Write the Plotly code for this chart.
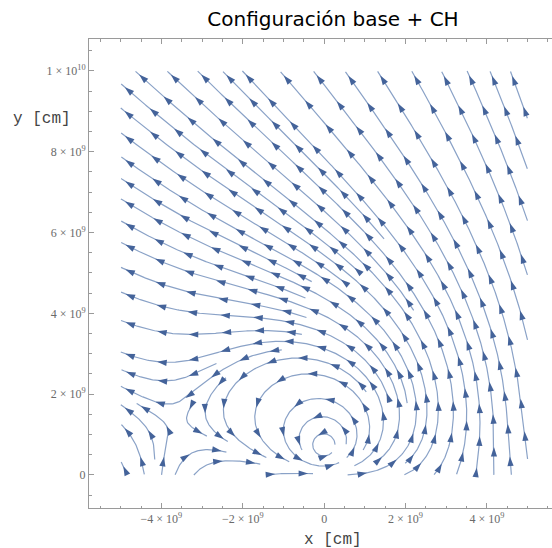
import math
import plotly.graph_objects as go

# ---------------- data (units of 1e9 cm) ----------------
# field sources of the model: flux-rope current, its image and the coronal-hole source
current_x = [0.0, 0.0]
current_y = [0.70, -0.70]
current_I = [1.0, -1.0]
source_x = [10.9]
source_y = [-10.1]
source_Q = [1.74]

x_tick_vals = [-4, -2, 0, 2, 4]
x_tick_text = ["−4 × 10<sup>9</sup>", "−2 × 10<sup>9</sup>", "0", "2 × 10<sup>9</sup>", "4 × 10<sup>9</sup>"]
y_tick_vals = [0, 2, 4, 6, 8, 10]
y_tick_text = ["0", "2 × 10<sup>9</sup>", "4 × 10<sup>9</sup>", "6 × 10<sup>9</sup>",
               "8 × 10<sup>9</sup>", "1 × 10<sup>10</sup>"]

X_MIN, X_MAX, Y_MIN, Y_MAX = -5.0, 5.0, 0.0, 10.0
X_RANGE = [-5.78, 5.60]
Y_RANGE = [-0.817, 10.79]


def field(x, y):
    bx = by = 0.0
    for cx, cy, I in zip(current_x, current_y, current_I):
        dx, dy = x - cx, y - cy
        r2 = dx * dx + dy * dy + 1e-12
        bx -= I * dy / r2
        by += I * dx / r2
    for sx, sy, Q in zip(source_x, source_y, source_Q):
        dx, dy = x - sx, y - sy
        r2 = dx * dx + dy * dy
        bx += Q * dx / r2
        by += Q * dy / r2
    return bx, by


# ---------------- evenly spaced streamlines ----------------
DSEP = 0.43
DTEST = 0.21
DS = 0.03
BMIN = 0.004
CELL = DSEP
grid = {}


def cell_of(x, y):
    return (int(math.floor((x + 6) / CELL)), int(math.floor((y + 1) / CELL)))


def near(x, y, r, g, s=None):
    cx, cy = cell_of(x, y)
    r2 = r * r
    for i in (cx - 1, cx, cx + 1):
        for j in (cy - 1, cy, cy + 1):
            for p in g.get((i, j), ()):
                if (p[0] - x) ** 2 + (p[1] - y) ** 2 < r2:
                    if s is None or abs(p[2] - s) > 3.5 * DSEP:
                        return True
    return False


def add(g, x, y, s=0.0):
    g.setdefault(cell_of(x, y), []).append((x, y, s))


def unit(x, y):
    bx, by = field(x, y)
    m = math.hypot(bx, by)
    if m < 1e-9:
        return None
    return bx / m, by / m, m


def trace(x0, y0, sign, own):
    pts = []
    x, y, s = x0, y0, 0.0
    for _ in range(1500):
        d1 = unit(x, y)
        if d1 is None or d1[2] < BMIN:
            break
        xm, ym = x + 0.5 * DS * sign * d1[0], y + 0.5 * DS * sign * d1[1]
        d2 = unit(xm, ym)
        if d2 is None:
            break
        xn, yn = x + DS * sign * d2[0], y + DS * sign * d2[1]
        if not (X_MIN <= xn <= X_MAX and Y_MIN <= yn <= Y_MAX):
            break
        s += DS * sign
        if near(xn, yn, DTEST, grid):
            break
        if near(xn, yn, DTEST, own, s):
            break
        add(own, xn, yn, s)
        pts.append((xn, yn))
        x, y = xn, yn
    return pts


lines = []


def try_seed(x0, y0):
    if not (X_MIN <= x0 <= X_MAX and Y_MIN <= y0 <= Y_MAX):
        return None
    if near(x0, y0, DSEP * 0.98, grid):
        return None
    d = unit(x0, y0)
    if d is None or d[2] < BMIN:
        return None
    own = {}
    add(own, x0, y0, 0.0)
    fwd = trace(x0, y0, 1, own)
    bwd = trace(x0, y0, -1, own)
    line = bwd[::-1] + [(x0, y0)] + fwd
    if len(line) * DS < 0.3:
        return None
    for (px, py) in line:
        add(grid, px, py)
    lines.append(line)
    return line


def grow(line0):
    queue = [line0]
    while queue:
        ln = queue.pop(0)
        for k in range(0, len(ln), 4):
            px, py = ln[k]
            d = unit(px, py)
            if d is None:
                continue
            nx, ny = -d[1], d[0]
            for sgn in (1, -1):
                nl = try_seed(px + sgn * DSEP * nx, py + sgn * DSEP * ny)
                if nl is not None:
                    queue.append(nl)


first = try_seed(1.0, 6.0)
if first is not None:
    grow(first)
step = DSEP / 2
ny_ = int((Y_MAX - Y_MIN) / step) + 1
nx_ = int((X_MAX - X_MIN) / step) + 1
for j in range(ny_):
    for i in range(nx_):
        nl = try_seed(X_MIN + i * step, Y_MIN + j * step)
        if nl is not None:
            grow(nl)

# ---------------- build traces ----------------
lx, ly = [], []
ax_, ay_, aang = [], [], []
PX = 463 / (X_RANGE[1] - X_RANGE[0])
PY = 469 / (Y_RANGE[1] - Y_RANGE[0])
SPACING = 0.8
for ln in lines:
    for (px, py) in ln:
        lx.append(px)
        ly.append(py)
    lx.append(None)
    ly.append(None)
    L = (len(ln) - 1) * DS
    sk = L - 0.12
    while sk > 0.12:
        idx = int(round(sk / DS))
        idx = max(0, min(len(ln) - 1, idx))
        px, py = ln[idx]
        d = unit(px, py)
        if d is not None:
            ax_.append(px)
            ay_.append(py)
            aang.append(math.degrees(math.atan2(d[0] * PX, d[1] * PY)))
        sk -= SPACING

fig = go.Figure()
fig.add_trace(go.Scatter(x=lx, y=ly, mode="lines",
                         line=dict(color="#8aa2c7", width=1.2),
                         hoverinfo="skip", showlegend=False))
fig.add_trace(go.Scatter(x=ax_, y=ay_, mode="markers",
                         marker=dict(symbol="arrow", size=10, angle=aang,
                                     color="#44639a", line=dict(width=0)),
                         hoverinfo="skip", showlegend=False))

tickfont = dict(family="Liberation Serif, serif", size=12, color="#6a6a6a")
axis_common = dict(showgrid=False, zeroline=False, showline=True, linecolor="#9a9a9a",
                   linewidth=1, ticks="inside", ticklen=5, tickcolor="#9a9a9a",
                   tickfont=tickfont,
                   minor=dict(dtick=0.5, ticks="inside", ticklen=2.5,
                              tickcolor="#9a9a9a", showgrid=False))
fig.update_layout(
    width=552, height=548,
    margin=dict(l=89, r=0, t=39, b=40),
    paper_bgcolor="white", plot_bgcolor="white",
    title=dict(text="Configuración base + CH", x=333 / 552, xanchor="center",
               y=1 - 19 / 548, yanchor="middle", xref="container", yref="container",
               font=dict(family="DejaVu Sans, sans-serif", size=20, color="black")),
    xaxis=dict(range=X_RANGE, tickvals=x_tick_vals, ticktext=x_tick_text,
               mirror="ticks", **axis_common),
    yaxis=dict(range=Y_RANGE, tickvals=y_tick_vals, ticktext=y_tick_text,
               mirror=False, **axis_common),
    annotations=[
        dict(text="x [cm]", xref="paper", yref="paper",
             x=(333 - 89) / 463, y=-(540 - 508) / 469, xanchor="center",
             yanchor="middle", showarrow=False,
             font=dict(family="Liberation Mono, monospace", size=16, color="#444444")),
        dict(text="y [cm]", xref="paper", yref="paper",
             x=-(89 - 42) / 463, y=(508 - 119) / 469, xanchor="center",
             yanchor="middle", showarrow=False,
             font=dict(family="Liberation Mono, monospace", size=16, color="#444444")),
    ],
)
fig.write_html("out.html")
